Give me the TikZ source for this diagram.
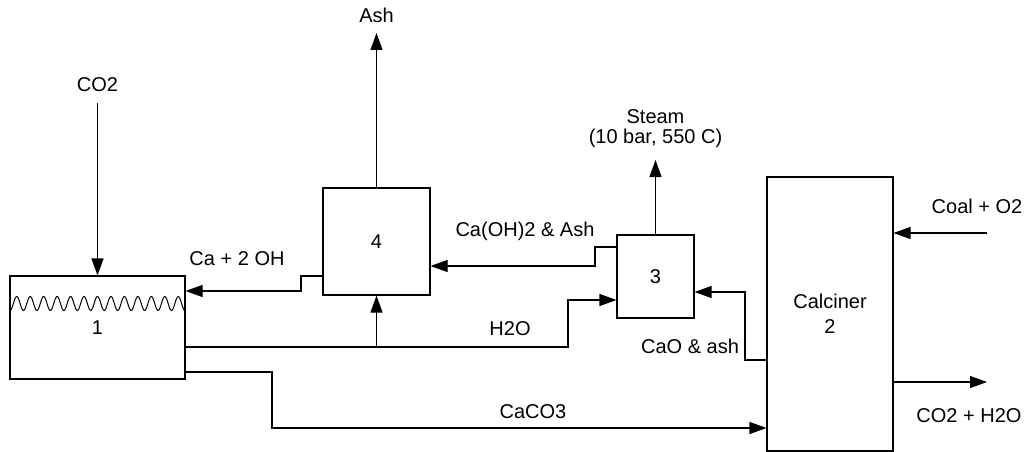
\documentclass[tikz,border=0pt]{standalone}
\usepackage{fontspec}
\setmainfont{Liberation Sans}
\usetikzlibrary{positioning,arrows.meta}

\begin{document}
\begin{tikzpicture}[x=1pt,y=-1pt,
  unit/.style={draw=black,line width=1.1pt,inner sep=0pt,align=center,
    font=\fontsize{20}{20}\selectfont},
  flow/.style={-{Triangle[length=17pt,width=12pt]},draw=black,line width=1.1pt},
  lbl/.style={inner sep=0pt,align=center,font=\fontsize{20}{20}\selectfont}]
\useasboundingbox (0,0) rectangle (1025,452);
\node[unit,minimum width=175pt,minimum height=103pt] (b1) at (97.5,327.5) {1};
\node[unit,minimum width=107pt,minimum height=107pt] (b4) at (376.5,241.5) {4};
\node[unit,minimum width=77pt,minimum height=83pt] (b3) at (655.5,276.5) {3};
\node[unit,minimum width=126pt,minimum height=274pt] (cal) at (830,314) {Calciner\\[5pt]2};
% liquid level in unit 1
\draw[line width=1pt,domain=10:185,samples=300,smooth]
  plot (\x,{303.5+7*cos(26.746*(\x-10))});
% free ends
\coordinate (co2in) at (97.5,103);
\coordinate (ashout) at (376.5,33);
\coordinate (steamout) at (655.5,160);
\coordinate (coalin) at (987,233);
\coordinate (flue) at (987,382);
\node[lbl,above=11pt of co2in] (co2) {CO2};
\node[lbl,above=10pt of ashout] (ash) {Ash};
\node[lbl,above=12pt of steamout] (steam) {Steam\\(10 bar, 550 C)};
\node[lbl] (caoh) at (237,259) {Ca + 2 OH};
\node[lbl] (caoh2) at (525,231) {Ca(OH)2 \& Ash};
\node[lbl] (h2o) at (510,329) {H2O};
\node[lbl] (caoash) at (690,346) {CaO \& ash};
\node[lbl] (caco3) at (533,412) {CaCO3};
\node[lbl] (coal) at (977,206) {Coal + O2};
\node[lbl] (exhaust) at (969,416) {CO2 + H2O};
\draw[flow] (co2in) -- (b1.north);
\draw[flow] (b4.north) -- (ashout);
\draw[flow] (b3.north) -- (steamout);
\draw[flow] (b4.west |- 0,276) -- (301,276) -- (301,291) -- (b1.east |- 0,291);
\draw[flow] (b3.west |- 0,247) -- (595,247) -- (595,266) -- (b4.east |- 0,266);
\draw[flow] (b1.east |- 0,347) -- (568,347) -- (568,300) -- (b3.west |- 0,300);
\draw[flow] (b4.south |- 0,347) -- (b4.south);
\draw[flow] (cal.west |- 0,360) -- (745,360) -- (745,292) -- (b3.east |- 0,292);
\draw[flow] (b1.east |- 0,372) -- (272,372) -- (272,428) -- (cal.west |- 0,428);
\draw[flow] (coalin) -- (cal.east |- coalin);
\draw[flow] (cal.east |- flue) -- (flue);
\end{tikzpicture}
\end{document}
